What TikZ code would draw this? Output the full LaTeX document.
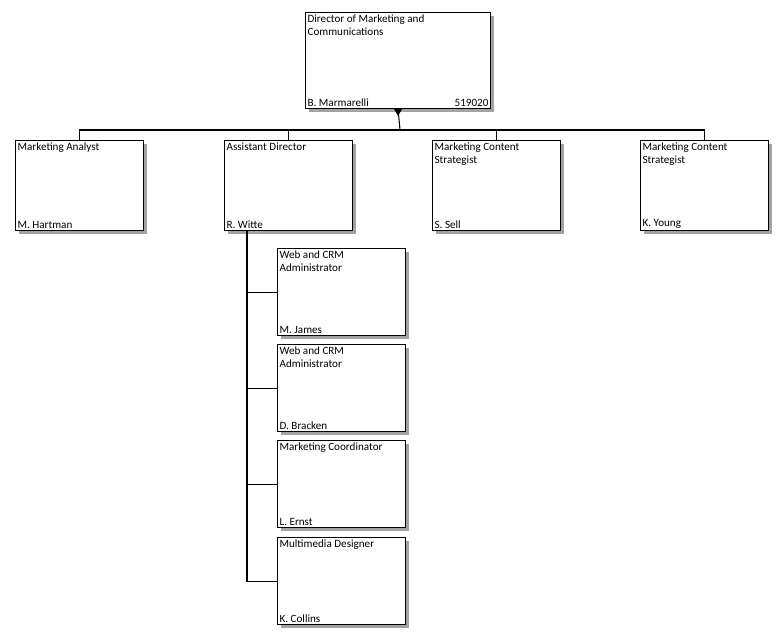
\documentclass[tikz,border=0pt]{standalone}
\usepackage{fontspec}
\setmainfont{Carlito}
\usetikzlibrary{shadows,positioning}
\tikzset{
  post/.style={draw, line width=0.9pt, fill=white, anchor=north west, inner sep=0pt,
    drop shadow={shadow xshift=3pt, shadow yshift=-3pt, fill=black!45, opacity=0.8}},
  ttl/.style={anchor=north west, align=left, inner sep=2pt, font=\fontsize{9.5}{11.5}\selectfont},
  who/.style={anchor=south west, inner sep=2pt, font=\fontsize{9.5}{11.5}\selectfont},
  link/.style={line width=0.9pt}
}
% \orgbox{name}{x}{y}{w}{h}{title}{person}
\newcommand{\orgbox}[7]{%
  \node[post, minimum width=#4*0.03cm, minimum height=#5*0.03cm] (#1) at (#2,#3) {};
  \node[ttl] (#1t) at (#1.north west) {#6};
  \node[who] (#1w) at (#1.south west) {#7};
}
\begin{document}
\begin{tikzpicture}[x=0.03cm, y=-0.03cm]
\useasboundingbox (0,0) rectangle (781,640);
% Top
\orgbox{dir}{305}{12}{185}{96}{Director of Marketing and\\Communications}{B. Marmarelli}
\node[who, anchor=south east] (dirn) at (dir.south east) {519020};
% Second row
\orgbox{ana}{15}{140}{128}{90}{Marketing Analyst}{M. Hartman}
\orgbox{asd}{224}{140}{128}{90}{Assistant Director}{R. Witte}
\orgbox{sca}{432}{140}{128}{90}{Marketing Content\\Strategist}{S. Sell}
\orgbox{scb}{640}{140}{128}{90}{Marketing Content\\Strategist}{K. Young}
% Staff
\orgbox{wca}{277}{248}{128}{87}{Web and CRM\\Administrator}{M. James}
\orgbox{wcb}{277}{344}{128}{87}{Web and CRM\\Administrator}{D. Bracken}
\orgbox{mco}{277}{440}{128}{87}{Marketing Coordinator}{L. Ernst}
\orgbox{mmd}{277}{537}{128}{87}{Multimedia Designer}{K. Collins}
% Connectors
\coordinate (bus) at (400,130);
\coordinate (stem) at (247,582);
\draw[link] (dir.south) -- (bus);
\fill (dir.south) ++(-4,0) -- ++(8,0) -- ++(-4,7) -- cycle;
\draw[link] (ana.north) |- (bus) -| (scb.north);
\draw[link] (asd.north) -- (asd.north |- bus);
\draw[link] (sca.north) -- (sca.north |- bus);
\draw[link] (asd.south west) ++(23,0) coordinate (s0) -- (stem);
\foreach \b in {wca,wcb,mco,mmd}
  \draw[link] (\b.west) -- (\b.west -| stem);
\end{tikzpicture}
\end{document}
